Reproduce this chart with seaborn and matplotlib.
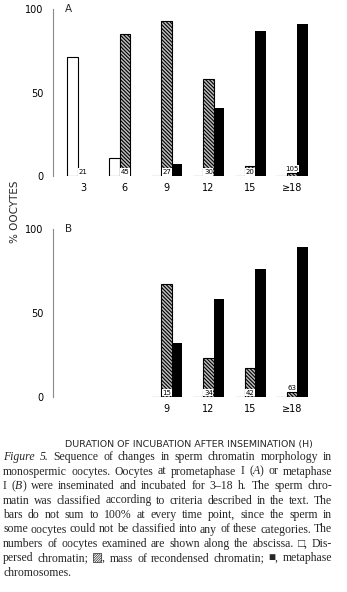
import re
import numpy as np
import pandas as pd
import matplotlib
matplotlib.use("Agg")
import matplotlib.pyplot as plt
import seaborn as sns

# ---- data -------------------------------------------------------------
times = ["3", "6", "9", "12", "15", "≥18"]
kinds = ["Dispersed chromatin", "Recondensed chromatin", "Metaphase chromosomes"]

a_dispersed = [71, 11, 0, 0, 0, 0]
a_recondensed = [0, 85, 93, 58, 6, 2]
a_metaphase = [0, 0, 7, 41, 87, 91]
a_counts = [21, 45, 27, 30, 20, 105]

b_dispersed = [np.nan, np.nan, 0, 0, 0, 0]
b_recondensed = [np.nan, np.nan, 67, 23, 17, 3]
b_metaphase = [np.nan, np.nan, 32, 58, 76, 89]
b_counts = [None, None, 15, 34, 42, 63]

yticks = [0, 50, 100]
ylabel = "% OOCYTES"
xlabel = "DURATION OF INCUBATION AFTER INSEMINATION (H)"

caption_lines = [
    "{Figure} {5.} Sequence of changes in sperm chromatin morphology in",
    "monospermic oocytes. Oocytes at prometaphase I ({A}) or metaphase",
    "I ({B}) were inseminated and incubated for 3–18 h. The sperm chro-",
    "matin was classified according to criteria described in the text. The",
    "bars do not sum to 100% at every time point, since the sperm in",
    "some oocytes could not be classified into any of these categories. The",
    "numbers of oocytes examined are shown along the abscissa. □, Dis-",
    "persed chromatin; ▨, mass of recondensed chromatin; ■, metaphase",
    "chromosomes.",
]

# ---- style ------------------------------------------------------------
sns.set_theme(style="white")
plt.rcParams["font.family"] = ["DejaVu Sans"]
plt.rcParams["hatch.linewidth"] = 0.8

W, H = 347, 592
fig = plt.figure(figsize=(W / 100, H / 100), dpi=100)
fig.patch.set_facecolor("white")


def panel(rect, disp, rec, meta, counts, letter):
    ax = fig.add_axes(rect)
    df = pd.DataFrame({
        "time": times * 3,
        "kind": list(np.repeat(kinds, len(times))),
        "pct": list(disp) + list(rec) + list(meta),
    }).dropna()
    sns.barplot(data=df, x="time", y="pct", hue="kind", order=times,
                hue_order=kinds, palette=["white", "#bdbdbd", "black"],
                width=0.75, errorbar=None, legend=False, saturation=1,
                edgecolor="black", linewidth=0.8, ax=ax)
    for bar in ax.containers[1]:
        bar.set_hatch("\\" * 9)
    for bar in ax.containers[2]:
        bar.set_linewidth(0)

    # number of oocytes examined, at the foot of each group
    for i, (n, h) in enumerate(zip(counts, rec)):
        if n is None:
            continue
        y = h + 0.6 if 0 < h < 4 else 0.6
        ax.text(i, y, str(n), ha="center", va="bottom", fontsize=5,
                color="black", zorder=5,
                bbox=dict(facecolor="white", edgecolor="none", pad=0.4))

    ax.set_xlim(-0.72, 5.79)
    ax.set_ylim(0, 100)
    ax.set_yticks(yticks)
    ax.set_xticks(range(len(times)))
    ax.set_xticklabels([t if n is not None else "" for t, n in zip(times, counts)])
    ax.set_xlabel("")
    ax.set_ylabel("")
    ax.tick_params(axis="both", length=0, labelsize=7, colors="black")
    ax.tick_params(axis="y", pad=7)
    ax.tick_params(axis="x", pad=5)
    for s in ("top", "right", "bottom"):
        ax.spines[s].set_visible(False)
    ax.spines["left"].set_color("#8a8a8a")
    ax.spines["left"].set_linewidth(0.8)
    ax.text(0.045, 1.0, letter, transform=ax.transAxes, ha="left",
            va="center", fontsize=7.5)
    ax.set_facecolor("white")
    return ax


panel([53 / W, 1 - 176 / H, 272 / W, 167 / H],
      a_dispersed, a_recondensed, a_metaphase, a_counts, "A")
panel([53 / W, 1 - 396.7 / H, 272 / W, 167.7 / H],
      b_dispersed, b_recondensed, b_metaphase, b_counts, "B")

fig.text(15 / W, 1 - 212 / H, ylabel, rotation=90, ha="center",
         va="center", fontsize=7.5)
fig.text(189 / W, 1 - 444 / H, xlabel, ha="center", va="center",
         fontsize=6.8)

# ---- justified caption ------------------------------------------------
cap_size = 8.5
cap_family = ["Liberation Serif", "DejaVu Sans"]
fig.canvas.draw()
renderer = fig.canvas.get_renderer()


def runs_of(word):
    parts = re.split(r"(\{[^}]*\})", word)
    return [(p.strip("{}"), "italic" if p.startswith("{") else "normal")
            for p in parts if p]


def width_of(s, style):
    t = fig.text(0, 0, s, fontsize=cap_size, family=cap_family, style=style)
    w = t.get_window_extent(renderer=renderer).width
    t.remove()
    return w


left, right = 3.0, 332.0
space_w = width_of("a b", "normal") - width_of("ab", "normal")
baseline0, step = 460.0, 14.5
for k, line in enumerate(caption_lines):
    words = [runs_of(w) for w in line.split(" ")]
    widths = [[width_of(s, st) for s, st in w] for w in words]
    total = sum(sum(w) for w in widths)
    last = k == len(caption_lines) - 1
    gap = space_w if last or len(words) < 2 else (right - left - total) / (len(words) - 1)
    x = left
    y = 1 - (baseline0 + k * step) / H
    for w, ws in zip(words, widths):
        for (s, st), rw in zip(w, ws):
            fig.text(x / W, y, s, fontsize=cap_size, family=cap_family,
                     style=st, ha="left", va="baseline")
            x += rw
        x += gap

fig.savefig("out.png", dpi=100, facecolor="white")
